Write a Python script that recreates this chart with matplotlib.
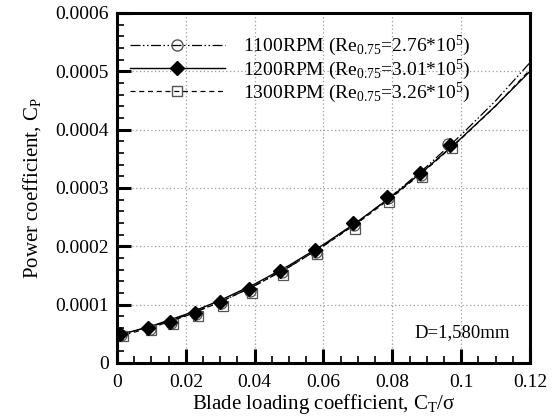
import matplotlib
matplotlib.use("Agg")
import matplotlib.pyplot as plt
from matplotlib.ticker import MultipleLocator

plt.rcParams["font.family"] = ["Liberation Serif", "DejaVu Serif"]
plt.rcParams["mathtext.fontset"] = "custom"
plt.rcParams["mathtext.rm"] = "Liberation Serif"
plt.rcParams["mathtext.it"] = "Liberation Serif:italic"
plt.rcParams["mathtext.default"] = "rm"

# measured points (C_T/sigma, C_P)
ct_1100 = [0.0013, 0.0095, 0.0158, 0.0231, 0.0303, 0.0387, 0.0478, 0.0579, 0.0689, 0.0788, 0.0884, 0.0962]
cp_1100 = [0.0000480, 0.0000590, 0.0000690, 0.0000840, 0.0001020, 0.0001240, 0.0001560, 0.0001910, 0.0002360, 0.0002820, 0.0003230, 0.0003750]

ct_1200 = [0.0009, 0.0091, 0.0154, 0.0227, 0.0299, 0.0383, 0.0474, 0.0575, 0.0685, 0.0784, 0.0880, 0.0967]
cp_1200 = [0.0000490, 0.0000600, 0.0000710, 0.0000860, 0.0001040, 0.0001270, 0.0001580, 0.0001940, 0.0002400, 0.0002850, 0.0003250, 0.0003730]

ct_1300 = [0.0017, 0.0099, 0.0162, 0.0235, 0.0307, 0.0391, 0.0482, 0.0582, 0.0692, 0.0791, 0.0887, 0.0972]
cp_1300 = [0.0000460, 0.0000560, 0.0000660, 0.0000800, 0.0000980, 0.0001200, 0.0001510, 0.0001860, 0.0002300, 0.0002760, 0.0003180, 0.0003690]

# curve fits sampled every 0.01
fit_ct = [0.0, 0.01, 0.02, 0.03, 0.04, 0.05, 0.06, 0.07, 0.08, 0.09, 0.10, 0.11, 0.12]
fit_1100 = [0.0000480, 0.0000625, 0.0000814, 0.0001047, 0.0001324, 0.0001645, 0.0002010, 0.0002419, 0.0002872, 0.0003369, 0.0003910, 0.0004495, 0.0005150]
fit_1200 = [0.0000470, 0.0000632, 0.0000833, 0.0001074, 0.0001353, 0.0001672, 0.0002030, 0.0002427, 0.0002863, 0.0003339, 0.0003853, 0.0004407, 0.0005000]
fit_1300 = [0.0000450, 0.0000605, 0.0000805, 0.0001045, 0.0001325, 0.0001645, 0.0002005, 0.0002405, 0.0002845, 0.0003325, 0.0003845, 0.0004405, 0.0005025]

labels = [
    r"1100RPM (Re$_{0.75}$=2.76*10$^5$)",
    r"1200RPM (Re$_{0.75}$=3.01*10$^5$)",
    r"1300RPM (Re$_{0.75}$=3.26*10$^5$)",
]

x_ticks = [0, 0.02, 0.04, 0.06, 0.08, 0.1, 0.12]
x_ticklabels = ["0", "0.02", "0.04", "0.06", "0.08", "0.1", "0.12"]
y_ticks = [0, 0.0001, 0.0002, 0.0003, 0.0004, 0.0005, 0.0006]
y_ticklabels = ["0", "0.0001", "0.0002", "0.0003", "0.0004", "0.0005", "0.0006"]

fig = plt.figure(figsize=(5.59, 4.19), dpi=100)
ax = fig.add_axes([0.2093, 0.1337, 0.7388, 0.8353])

dashdotdot = (0, (8, 2, 1.2, 2, 1.2, 2))
dashed = (0, (4, 3))

ax.plot(fit_ct, fit_1100, color="black", lw=0.9, linestyle=dashdotdot)
ax.plot(fit_ct, fit_1200, color="black", lw=1.0, linestyle="-")
ax.plot(fit_ct, fit_1300, color="black", lw=0.9, linestyle=dashed)

ax.plot(ct_1100, cp_1100, linestyle="none", marker="o", ms=8, mfc="none", mec="#555555", mew=0.9)
ax.plot(ct_1300, cp_1300, linestyle="none", marker="s", ms=7.5, mfc="none", mec="#555555", mew=0.9)
ax.plot(ct_1200, cp_1200, linestyle="none", marker="D", ms=7.5, mfc="black", mec="black")

# legend entries: line with marker centred on it
h1, = ax.plot([], [], color="black", lw=0.9, linestyle=dashdotdot, marker="o", ms=8, mfc="none", mec="#555555")
h2, = ax.plot([], [], color="black", lw=1.0, linestyle="-", marker="D", ms=7.5, mfc="black", mec="black")
h3, = ax.plot([], [], color="black", lw=0.9, linestyle=dashed, marker="s", ms=7.5, mfc="none", mec="#555555")
ax.legend([h1, h2, h3], labels, loc="upper left", bbox_to_anchor=(0.031, 0.94),
          frameon=False, borderpad=0, borderaxespad=0, handlelength=4.9,
          handletextpad=0.9, labelspacing=-0.05, numpoints=1, fontsize=14)

ax.text(0.952, 0.086, "D=1,580mm", transform=ax.transAxes, ha="right", va="center", fontsize=13.5)

ax.set_xlim(0, 0.12)
ax.set_ylim(0, 0.0006)
ax.set_xticks(x_ticks, x_ticklabels)
ax.set_yticks(y_ticks, y_ticklabels)
ax.xaxis.set_minor_locator(MultipleLocator(0.005))
ax.yaxis.set_minor_locator(MultipleLocator(0.00002))
ax.tick_params(which="both", direction="in", top=False, right=False, labelsize=14, color="black")
ax.tick_params(which="major", length=10, width=2.2)
ax.tick_params(which="minor", length=5, width=1.2)
ax.tick_params(axis="x", which="major", pad=8)
ax.tick_params(axis="y", which="major", pad=6)
for s in ax.spines.values():
    s.set_linewidth(2.2)

ax.grid(True, which="major", color="#9a9a9a", linestyle=(0, (1, 2)), linewidth=0.9)
ax.set_axisbelow(True)

ax.set_xlabel(r"Blade loading coefficient, C$_T$/σ", fontsize=15, labelpad=1)
ax.set_ylabel(r"Power coefficient, C$_P$", fontsize=15, labelpad=9)

fig.savefig("out.png", dpi=100)
